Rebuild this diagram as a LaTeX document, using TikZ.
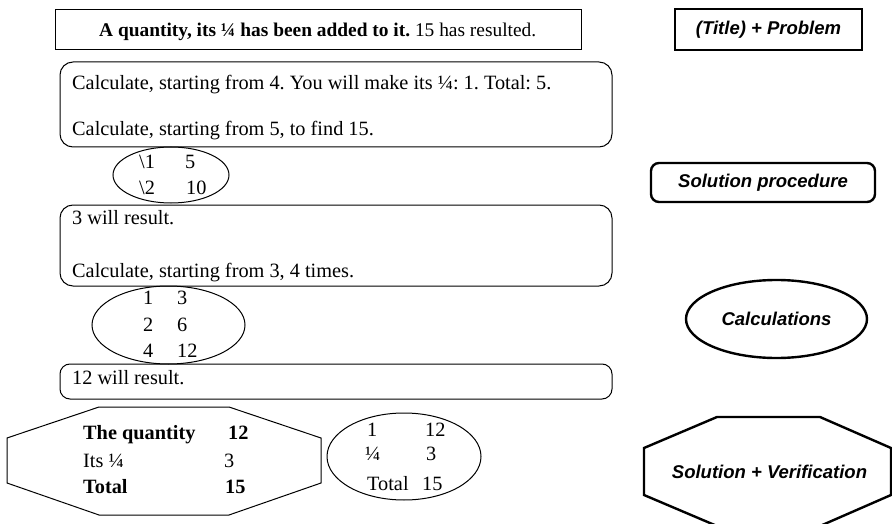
\documentclass[tikz,border=0pt]{standalone}
\usepackage{fontspec}
\setmainfont{Liberation Serif}
\newfontfamily\lblfont{Liberation Sans}
\usetikzlibrary{shapes.geometric}
\frenchspacing
\begin{document}
\begin{tikzpicture}[x=1pt,y=-1pt,
  txt/.style={anchor=base west,inner sep=0pt,font=\fontsize{20.3}{24}\selectfont},
  thinbox/.style={draw,line width=1pt,inner sep=0pt},
  roundbox/.style={draw,line width=1pt,inner sep=0pt,rounded corners=13pt},
  thinell/.style={draw,ellipse,line width=1pt,inner sep=0pt},
  lbl/.style={inner sep=0pt,font=\lblfont\bfseries\itshape\fontsize{18.5}{22}\selectfont},
  lblline/.style={line width=2.4pt},
]
\useasboundingbox (0,0) rectangle (892,524);
\clip (0,0) rectangle (892,524);
% Title
\node[thinbox,minimum width=526pt,minimum height=40pt] (title) at (318,30) {};
\node[txt,font=\fontsize{19.4}{24}\selectfont] (titletxt) at (99,37)
  {\textbf{A quantity, its ¼ has been added to it.} 15 has resulted.};
% Box 1
\node[roundbox,minimum width=552pt,minimum height=85pt] (box1) at (336,104.5) {};
\node[txt] (b1l1) at (72,90) {Calculate, starting from 4. You will make its ¼: 1. Total: 5.};
\node[txt] (b1l2) at (72,136) {Calculate, starting from 5, to find 15.};
% Ellipse 1
\node[thinell,minimum width=116pt,minimum height=56pt] (ell1) at (171,175) {};
\node[txt] (e1a) at (139,168) {\textbackslash 1};
\node[txt] (e1b) at (185,168) {5};
\node[txt] (e1c) at (139,195) {\textbackslash 2};
\node[txt] (e1d) at (186,195) {10};
% Box 2
\node[roundbox,minimum width=552pt,minimum height=81pt] (box2) at (336,245.5) {};
\node[txt] (b2l1) at (72,224) {3 will result.};
\node[txt] (b2l2) at (72,277) {Calculate, starting from 3, 4 times.};
% Ellipse 2
\node[thinell,minimum width=153pt,minimum height=78pt] (ell2) at (168.5,325) {};
\node[txt] (e2a) at (143,304) {1};
\node[txt] (e2b) at (177,304) {3};
\node[txt] (e2c) at (143,331) {2};
\node[txt] (e2d) at (177,331) {6};
\node[txt] (e2e) at (143,357) {4};
\node[txt] (e2f) at (177,357) {12};
% Box 3
\node[roundbox,rounded corners=10pt,minimum width=552pt,minimum height=35pt] (box3) at (336,381.5) {};
\node[txt] (b3l1) at (72,384) {12 will result.};
% Octagon left
\draw[line width=1pt] (7,438) -- (99,407) -- (229,407) -- (321,438) -- (321,483) -- (229,515) -- (99,515) -- (7,483) -- cycle;
\node[txt,font=\bfseries\fontsize{20.3}{24}\selectfont] (o1) at (83,439) {The quantity};
\node[txt,font=\bfseries\fontsize{20.3}{24}\selectfont] (o2) at (228,439) {12};
\node[txt] (o3) at (83,467) {Its ¼};
\node[txt] (o4) at (224,467) {3};
\node[txt,font=\bfseries\fontsize{20.3}{24}\selectfont] (o5) at (83,493) {Total};
\node[txt,font=\bfseries\fontsize{20.3}{24}\selectfont] (o6) at (225,493) {15};
% Ellipse 3
\node[thinell,minimum width=154pt,minimum height=87pt] (ell3) at (404,456.5) {};
\node[txt] (e3a) at (367,436) {1};
\node[txt] (e3b) at (425,436) {12};
\node[txt] (e3c) at (365,460) {¼};
\node[txt] (e3d) at (426,460) {3};
\node[txt] (e3e) at (367,490) {Total};
\node[txt] (e3f) at (422,490) {15};
% Right labels
\node[lbl,draw,lblline,minimum width=187pt,minimum height=41pt] (lab1) at (768.5,29.5) {(Title) + Problem};
\node[lbl,draw,lblline,rounded corners=8pt,minimum width=224pt,minimum height=39pt] (lab2) at (763,182.5) {Solution procedure};
\node[lbl,draw,lblline,ellipse,minimum width=181pt,minimum height=78pt] (lab3) at (776.5,319) {Calculations};
\draw[lblline] (644,448) -- (717,417) -- (820,417) -- (891,448) -- (891,495) -- (820,526) -- (717,526) -- (644,495) -- cycle;
\node[lbl] (lab4) at (769.5,471.5) {Solution + Verification};
\end{tikzpicture}
\end{document}
